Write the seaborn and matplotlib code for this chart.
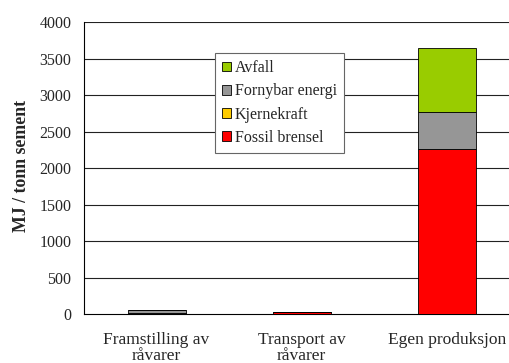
import matplotlib
matplotlib.use("Agg")
import matplotlib.pyplot as plt
from matplotlib.patches import Patch
import seaborn as sns
import pandas as pd
import numpy as np

categories = ["Framstilling av\nråvarer", "Transport av\nråvarer", "Egen produksjon"]
fossil_brensel = [15, 25, 2265]
kjernekraft = [0, 0, 0]
fornybar_energi = [42, 0, 505]
avfall = [0, 0, 870]

series = [
    ("Fossil brensel", fossil_brensel, "#FF0000"),
    ("Kjernekraft", kjernekraft, "#FFCC00"),
    ("Fornybar energi", fornybar_energi, "#969696"),
    ("Avfall", avfall, "#99CC00"),
]
yticks = [0, 500, 1000, 1500, 2000, 2500, 3000, 3500, 4000]

sns.set_style("white")
plt.rcParams["font.family"] = ["Liberation Serif", "DejaVu Serif"]

fig = plt.figure(figsize=(5.09, 3.63), dpi=100)
ax = fig.add_axes([0.165, 0.135, 0.855, 0.804])

df = pd.DataFrame({"kategori": categories})
bottom = np.zeros(len(categories))
for name, vals, color in series:
    vals = np.array(vals, dtype=float)
    sns.barplot(x=df["kategori"], y=vals, bottom=bottom, color=color,
                width=0.4, edgecolor="black", linewidth=0.6, ax=ax,
                saturation=1, zorder=3)
    bottom = bottom + vals

ax.set_ylim(0, 4000)
ax.set_xlim(-0.5, 2.5)
ax.set_yticks(yticks)
ax.set_yticklabels([str(t) for t in yticks], fontsize=11.5)
for t in yticks[1:]:
    ax.axhline(t, color="#222222", linewidth=0.8, zorder=1)

# category labels centred, tick marks at the category boundaries
ax.tick_params(axis="x", which="minor", length=0, pad=13, labelsize=12.5)
ax.tick_params(axis="x", which="major", length=4, width=0.8, direction="out", color="black")
ax.tick_params(axis="y", length=4, width=0.8, direction="out", color="black", pad=5)
ax.set_xticks([0, 1, 2], minor=True)
ax.set_xticklabels(categories, minor=True, fontsize=12.5, linespacing=1.0)
ax.set_xticks([0.5, 1.5])
ax.set_xticklabels(["", ""])
for lbl in ax.get_xticklabels(minor=True):
    lbl.set_fontsize(12.5)
    lbl.set_linespacing(1.0)
ax.set_xlabel("")
ax.set_ylabel("MJ / tonn sement", fontsize=12.8, fontweight="bold")
ax.yaxis.set_label_coords(-0.125, 0.507)

for s in ["top", "right"]:
    ax.spines[s].set_visible(False)
for s in ["left", "bottom"]:
    ax.spines[s].set_color("black")
    ax.spines[s].set_linewidth(0.8)

handles = [Patch(facecolor=c, edgecolor="black", linewidth=0.6, label=n)
           for n, _, c in reversed(series)]
leg = ax.legend(handles=handles, loc="upper left", bbox_to_anchor=(0.301, 0.894),
                fontsize=11.5, frameon=True, fancybox=False, framealpha=1,
                edgecolor="#666666", handlelength=0.55, handleheight=0.55,
                handletextpad=0.25, labelspacing=0.45, borderpad=0.45,
                borderaxespad=0)
leg.get_frame().set_linewidth(0.8)
leg.set_zorder(5)

fig.savefig("out.png", dpi=100)
